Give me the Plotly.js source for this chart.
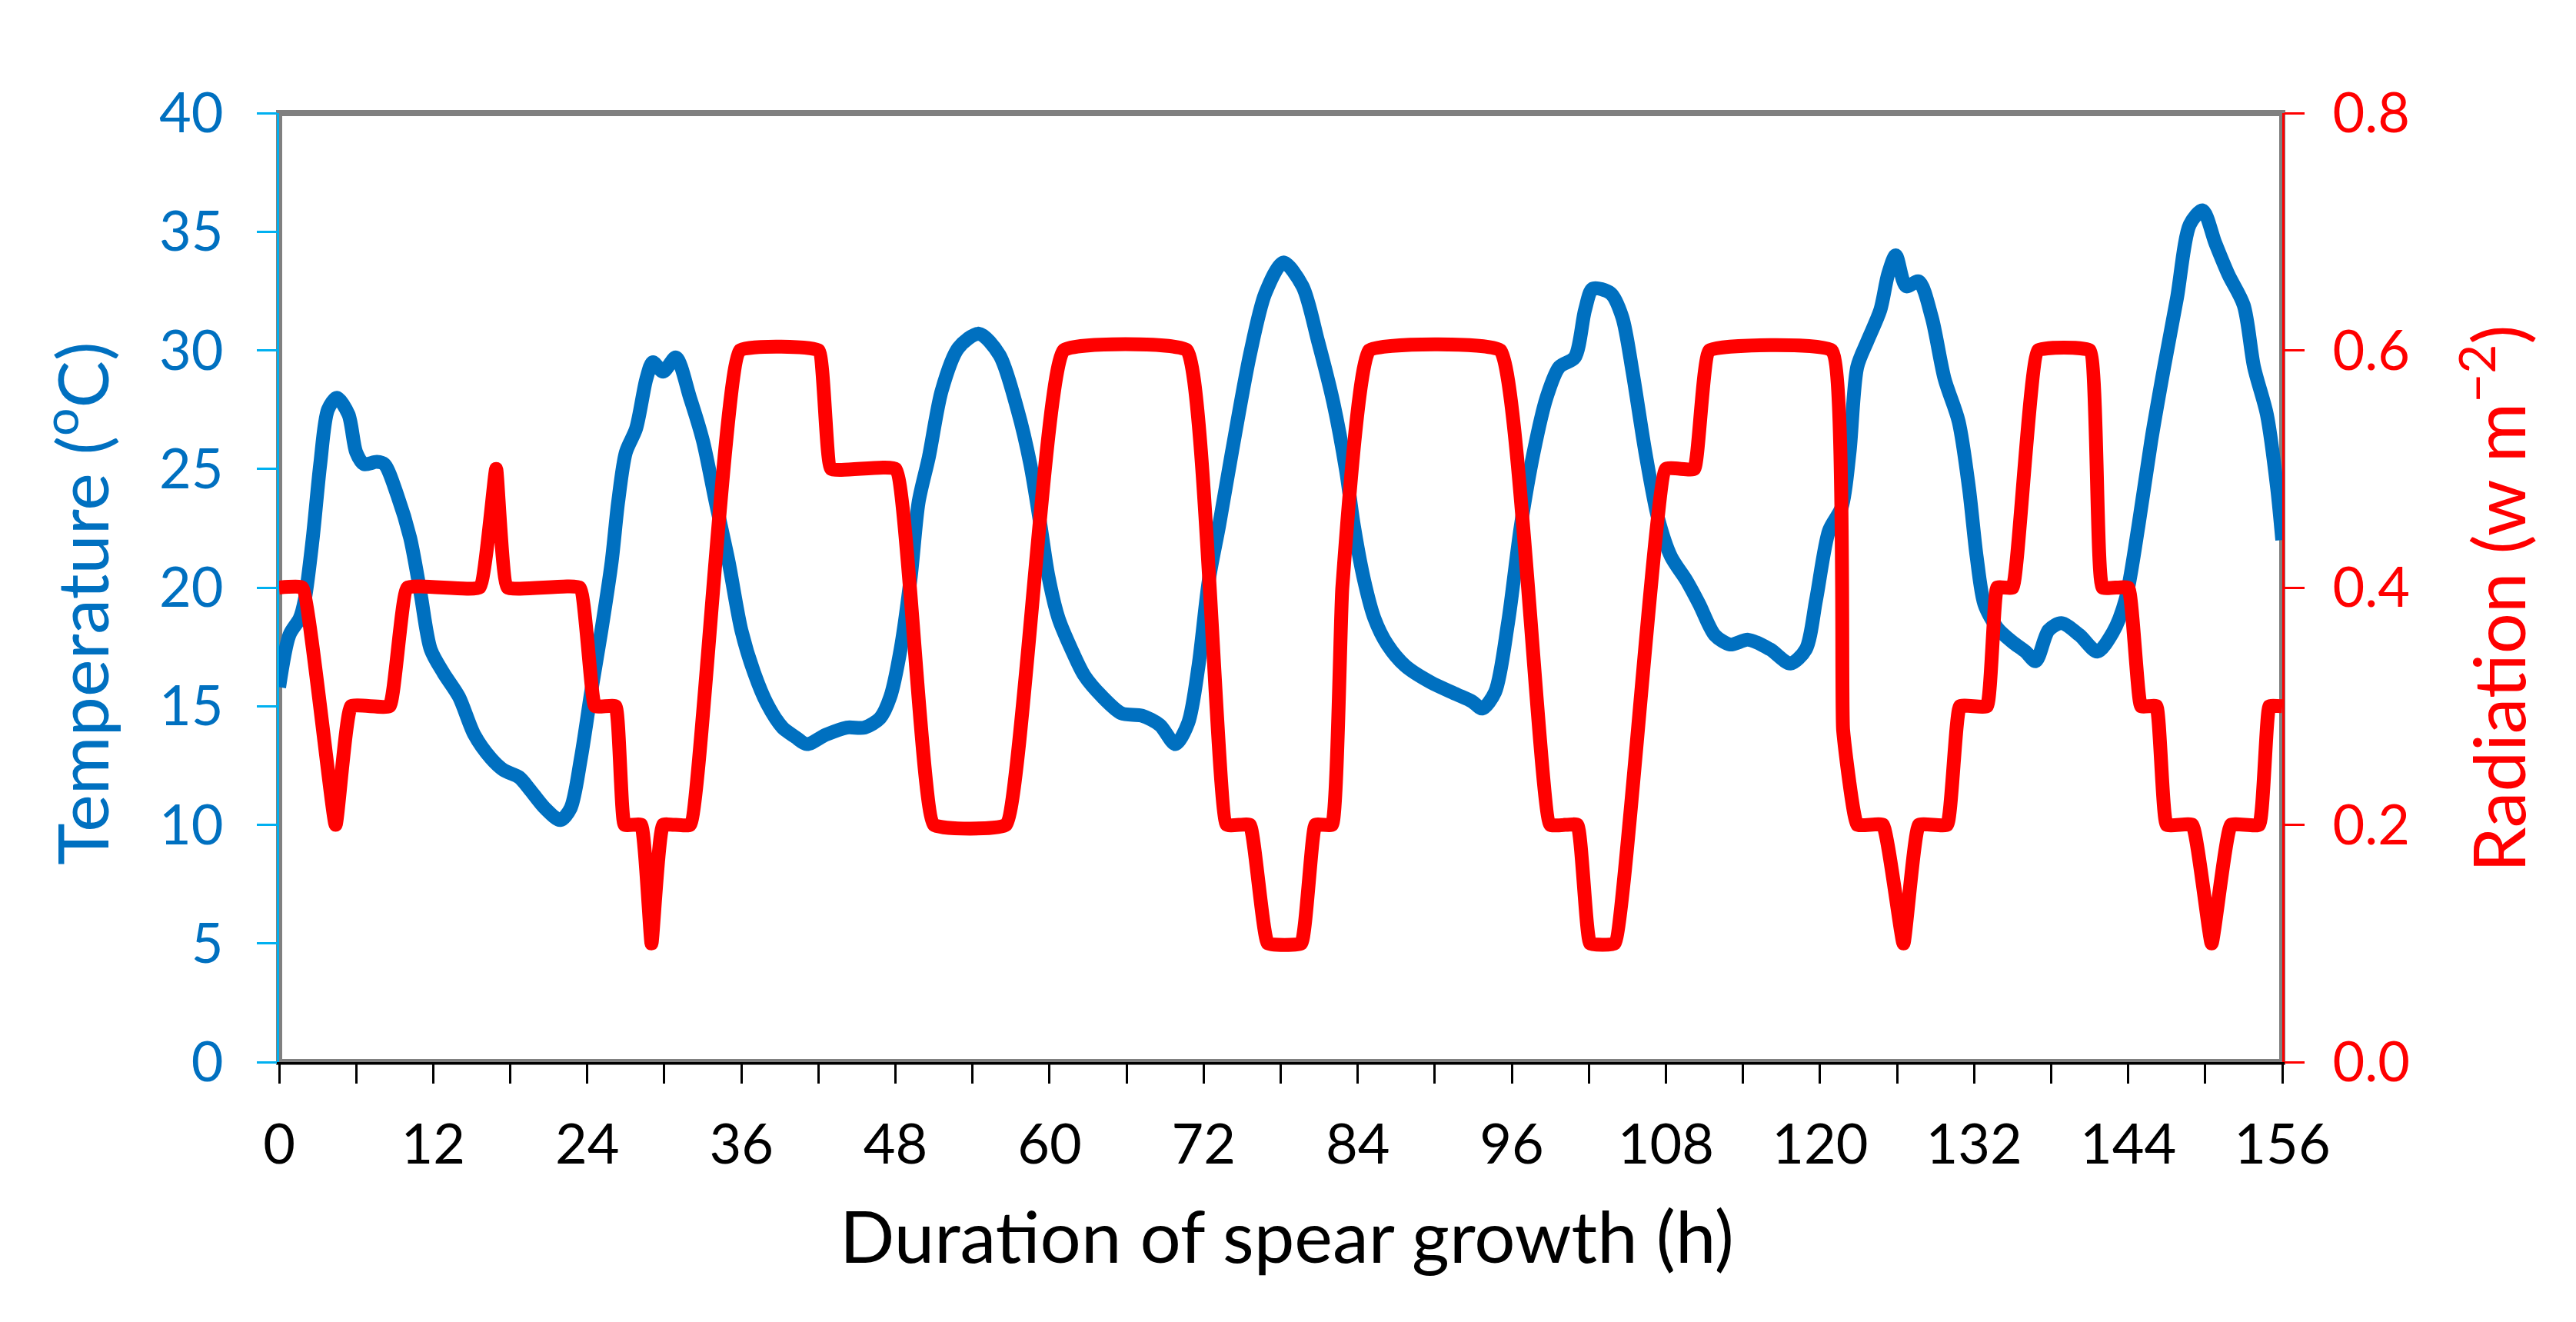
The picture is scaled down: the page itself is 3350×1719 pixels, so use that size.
<!DOCTYPE html>
<html>
<head>
<meta charset="utf-8">
<script src="https://cdn.plot.ly/plotly-3.0.1.min.js"></script>
<style>
    html, body { margin: 0; padding: 0; background: #ffffff; }
    #chart { width: 3350px; height: 1719px; }
</style>
</head>
<body>
<div id="chart"></div>
<script>
// hours of spear growth / air temperature (oC)
var tempHours = [0, 0.8, 1.6, 2.0, 2.6, 3.2, 3.8, 4.5, 5.4, 6.0, 6.6, 7.6, 8.2, 9.2, 10.2, 11.0, 11.8, 12.8, 14.0, 15.2,
    16.5, 17.5, 18.7, 19.5, 20.7, 21.9, 22.7, 23.5, 24.3, 25.1, 25.9, 26.4, 27.0, 27.8, 28.6, 29.1, 29.9, 30.9, 32.0, 33.0,
    34.0, 35.0, 36.0, 37.0, 38.0, 39.2, 40.2, 41.1, 42.6, 44.2, 45.6, 46.8, 47.6, 48.4, 49.2, 49.8, 50.6, 51.6, 52.9, 54.5,
    56.1, 57.5, 58.5, 59.3, 59.9, 60.7, 61.7, 62.7, 64.1, 65.6, 67.2, 68.6, 69.8, 70.8, 71.6, 72.4, 73.2, 74.2, 75.6, 76.8,
    78.2, 79.7, 80.9, 82.1, 83.1, 83.7, 84.5, 85.3, 86.3, 87.7, 89.7, 91.7, 92.9, 93.7, 94.7, 95.7, 96.7, 97.7, 98.7, 99.7,
    100.9, 101.7, 102.3, 103.7, 104.6, 105.4, 106.4, 107.4, 108.4, 109.6, 110.6, 111.8, 113.0, 114.4, 116.1, 117.7, 118.9, 119.7, 120.7, 121.7,
    122.3, 122.9, 123.7, 124.7, 125.3, 125.9, 126.7, 127.7, 128.7, 129.7, 130.8, 131.6, 132.2, 132.8, 133.8, 135.0, 136.0, 136.8, 137.8, 138.8,
    140.2, 141.6, 142.8, 143.8, 144.8, 145.8, 146.8, 147.8, 148.8, 149.8, 150.8, 151.8, 153.0, 153.8, 154.8, 155.6, 156.0];

var temperature = [15.8, 18.0, 18.7, 19.5, 22.0, 25.2, 27.5, 28.0, 27.3, 25.7, 25.2, 25.3, 25.2, 23.9, 22.1, 19.8, 17.4, 16.4, 15.4, 13.8,
    12.8, 12.3, 12.0, 11.5, 10.7, 10.2, 10.7, 12.8, 15.6, 18.2, 21.1, 23.6, 25.7, 26.7, 28.8, 29.5, 29.1, 29.7, 28.0, 26.2,
    23.6, 21.1, 18.2, 16.4, 15.1, 14.1, 13.7, 13.4, 13.8, 14.1, 14.1, 14.5, 15.4, 17.4, 20.5, 23.6, 25.5, 28.3, 30.1, 30.7,
    29.8, 27.5, 25.2, 22.6, 20.5, 18.7, 17.4, 16.3, 15.4, 14.7, 14.6, 14.2, 13.4, 14.3, 16.7, 20.3, 22.6, 25.7, 29.8, 32.4,
    33.7, 32.7, 30.4, 27.8, 24.9, 22.6, 20.3, 18.7, 17.6, 16.7, 16.0, 15.5, 15.2, 14.9, 15.6, 18.5, 22.6, 25.7, 28.0, 29.3,
    29.7, 31.7, 32.6, 32.4, 31.4, 29.1, 25.7, 22.9, 21.3, 20.3, 19.3, 18.0, 17.6, 17.8, 17.4, 16.8, 17.4, 19.5, 22.4, 23.4,
    25.7, 29.3, 30.4, 31.7, 33.2, 34.0, 32.7, 32.9, 31.4, 28.8, 27.0, 24.2, 21.3, 19.3, 18.3, 17.7, 17.3, 16.9, 18.2, 18.5,
    18.0, 17.3, 18.1, 19.5, 22.6, 26.2, 29.3, 32.2, 35.3, 35.9, 34.5, 33.2, 31.9, 29.3, 27.3, 24.2, 22.0];

// hours / radiation (w m-2)
var radHours = [0, 1.8, 4.4, 5.6, 8.6, 10.0, 15.6, 16.9, 17.8, 23.4, 24.6, 26.2, 26.9, 28.2, 29.0, 29.9, 32.0, 35.9, 42.0, 43.0,
    48.0, 51.0, 56.6, 61.1, 70.7, 73.8, 75.6, 77.0, 79.6, 80.7, 82.0, 82.8, 84.9, 95.1, 99.0, 101.1, 102.1, 104.0, 108.0, 110.2,
    111.4, 120.9, 121.8, 122.9, 124.9, 126.5, 127.7, 129.9, 130.9, 133.0, 133.8, 135.0, 137.0, 141.0, 142.0, 144.0, 145.0, 146.2, 147.0, 149.0,
    150.5, 152.0, 154.2, 155.0, 156.0];

var radiation = [0.4, 0.4, 0.2, 0.3, 0.3, 0.4, 0.4, 0.5, 0.4, 0.4, 0.3, 0.3, 0.2, 0.2, 0.1, 0.2, 0.2, 0.6, 0.6, 0.5,
    0.5, 0.2, 0.2, 0.6, 0.6, 0.2, 0.2, 0.1, 0.1, 0.2, 0.2, 0.4, 0.6, 0.6, 0.2, 0.2, 0.1, 0.1, 0.5, 0.5,
    0.6, 0.6, 0.28, 0.2, 0.2, 0.1, 0.2, 0.2, 0.3, 0.3, 0.4, 0.4, 0.6, 0.6, 0.4, 0.4, 0.3, 0.3, 0.2, 0.2,
    0.1, 0.2, 0.2, 0.3, 0.3];

var blue = "#0070C0";
var red = "#FF0000";

window.drawSpearChart = (divID) => {

    var div = document.getElementById(divID);

    var tempLine = {
        x: tempHours, y: temperature, type: 'scatter', mode: 'lines', name: "Temperature",
        line: { color: blue, width: 18, shape: 'spline', smoothing: 0.8 },
        yaxis: 'y'
    };

    var radLine = {
        x: radHours, y: radiation, type: 'scatter', mode: 'lines', name: "Radiation",
        line: { color: red, width: 18, shape: 'spline', smoothing: 0.3 },
        yaxis: 'y2'
    };

    var tickFont = { family: "Lato", size: 72 };

    var layout = {
        width: 3350,
        height: 1719,
        margin: { l: 363, r: 382, t: 147, b: 338 },
        paper_bgcolor: "#ffffff",
        plot_bgcolor: "#ffffff",
        showlegend: false,
        font: { family: "Lato", color: "black" },
        xaxis: {
            range: [0, 156],
            dtick: 12,
            ticks: 'outside', ticklen: 25, tickwidth: 3, tickcolor: "black",
            minor: { dtick: 6, ticks: 'outside', ticklen: 25, tickwidth: 3, tickcolor: "black", showgrid: false },
            ticklabelstandoff: 18,
            showline: true, linecolor: "black", linewidth: 3,
            showgrid: false, zeroline: false,
            tickfont: Object.assign({ color: "black" }, tickFont)
        },
        yaxis: {
            range: [0, 40],
            dtick: 5,
            ticks: 'outside', ticklen: 26, tickwidth: 3, tickcolor: "#00B0F0",
            ticklabelstandoff: 29,
            showline: true, linecolor: "#00B0F0", linewidth: 3,
            showgrid: false, zeroline: false,
            tickfont: Object.assign({ color: blue }, tickFont)
        },
        yaxis2: {
            range: [0, 0.8],
            dtick: 0.2,
            tickformat: '.1f',
            overlaying: 'y',
            side: 'right',
            ticks: 'outside', ticklen: 26, tickwidth: 3, tickcolor: red,
            ticklabelstandoff: 22,
            showline: true, linecolor: red, linewidth: 3,
            showgrid: false, zeroline: false,
            tickfont: Object.assign({ color: red }, tickFont)
        },
        shapes: [
            // grey chart frame
            { type: 'rect', xref: 'paper', yref: 'paper', x0: 0, x1: 1, y0: 0, y1: 1,
              line: { color: "#808080", width: 8 }, layer: 'below' }
        ],
        annotations: [
            { text: "Temperature (<sup>o</sup>C)", xref: 'paper', yref: 'paper', x: -0.101, y: 0.483,
              xanchor: 'center', yanchor: 'middle', textangle: -90, showarrow: false,
              font: { family: "Lato", size: 92, color: blue } },
            { text: "Radiation (w m<sup>\u22122</sup>)", xref: 'paper', yref: 'paper', x: 1.105, y: 0.488,
              xanchor: 'center', yanchor: 'middle', textangle: -90, showarrow: false,
              font: { family: "Lato", size: 94, color: red } },
            { text: "Duration of spear growth (h)", xref: 'paper', yref: 'paper', x: 0.503, y: -0.182,
              xanchor: 'center', yanchor: 'middle', showarrow: false,
              font: { family: "Lato", size: 94, color: "black" } }
        ]
    };

    var config = { responsive: false, displaylogo: false, displayModeBar: false };

    Plotly.newPlot(div, [tempLine, radLine], layout, config);
};

window.drawSpearChart("chart");
</script>
</body>
</html>
